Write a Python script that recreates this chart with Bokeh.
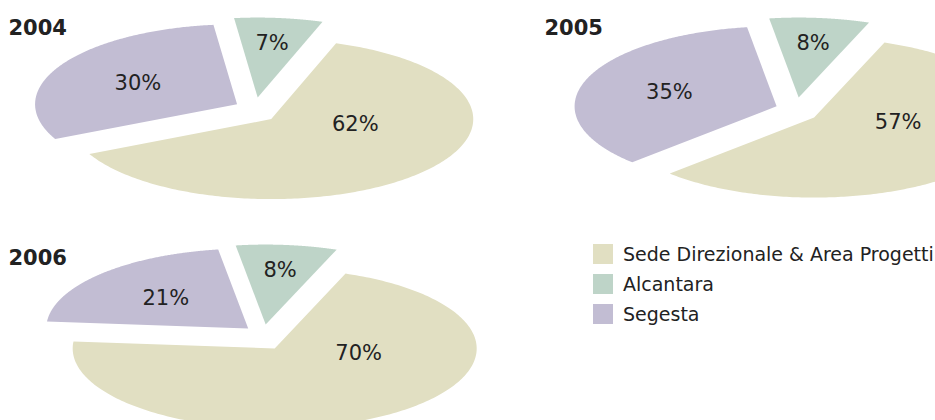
import numpy as np
from bokeh.plotting import figure
from bokeh.models import Range1d, ColumnDataSource, Legend, LegendItem
from bokeh.core.properties import value
from bokeh.embed import file_html
from bokeh.resources import INLINE

# ---- data ----
years = ["2004", "2005", "2006"]
categories = ["Sede Direzionale & Area Progetti", "Alcantara", "Segesta"]
sede = [62, 57, 70]
alcantara = [7, 8, 8]
segesta = [30, 35, 21]
colors = ["#E1DFC2", "#BED4C8", "#C2BDD3"]

# ---- layout / style (page pixels) ----
W, H = 935, 420
centers = [(255, 110), (796, 110), (263, 337)]
title_pos = [(8, 26), (544, 26), (8, 256)]
RX, RY = 202, 80          # ellipse radii
EX, EY = 21, 13           # explode offsets
ALC_MID = 84.0            # direction of the smallest slice (deg)
label_r = [0.42, 0.68, 0.56]
label_dir = [-8.0, None, None]   # fixed label direction for the large slice
FONT = "DejaVu Sans"
TXT = "#222222"

p = figure(width=W, height=H, x_range=Range1d(0, W), y_range=Range1d(H, 0),
           output_backend="svg", toolbar_location=None, min_border=0,
           x_axis_location=None, y_axis_location=None)
p.grid.visible = False
p.outline_line_color = None

series = [sede, alcantara, segesta]
ccw_order = [1, 2, 0]  # Alcantara, Segesta, Sede counter-clockwise

xs = {c: [] for c in range(3)}
ys = {c: [] for c in range(3)}
lab_x, lab_y, lab_t = [], [], []

for i, yr in enumerate(years):
    cx, cy = centers[i]
    vals = [series[c][i] for c in ccw_order]
    tot = float(sum(vals))
    spans = [v / tot * 360.0 for v in vals]
    a = ALC_MID - spans[0] / 2.0
    for c, sp in zip(ccw_order, spans):
        a0, a1 = a, a + sp
        m = np.radians((a0 + a1) / 2.0)
        vx = cx + EX * np.cos(m)
        vy = cy - EY * np.sin(m)
        t = np.radians(np.linspace(a0, a1, 240))
        px = np.concatenate([[vx], vx + RX * np.cos(t), [vx]])
        py = np.concatenate([[vy], vy - RY * np.sin(t), [vy]])
        xs[c].append(px.tolist())
        ys[c].append(py.tolist())
        r = label_r[c]
        lm = m if label_dir[c] is None else np.radians(label_dir[c])
        lab_x.append(vx + r * RX * np.cos(lm))
        lab_y.append(vy - r * RY * np.sin(lm))
        lab_t.append("%d%%" % series[c][i])
        a = a1

renderers = []
for c in range(3):
    src = ColumnDataSource(dict(xs=xs[c], ys=ys[c]))
    r = p.patches("xs", "ys", source=src, fill_color=colors[c], line_color=None)
    renderers.append(r)

p.text(x=lab_x, y=lab_y, text=lab_t, text_align="center", text_baseline="middle",
       text_font=value(FONT), text_font_size="21px", text_color=TXT)

p.text(x=[t[0] for t in title_pos], y=[t[1] for t in title_pos], text=years,
       text_align="left", text_baseline="middle", text_font=value(FONT),
       text_font_size="21px", text_font_style="bold", text_color=TXT)

legend = Legend(items=[LegendItem(label=categories[c], renderers=[renderers[c]]) for c in range(3)],
                location=(590, 94), glyph_width=25, glyph_height=25, spacing=5,
                padding=0, margin=0, label_standoff=8, border_line_color=None,
                background_fill_alpha=0, label_text_font=FONT, label_text_font_size="19px",
                label_text_color=TXT, label_height=25)
p.add_layout(legend)

open("out.html", "w").write(file_html(p, INLINE))
